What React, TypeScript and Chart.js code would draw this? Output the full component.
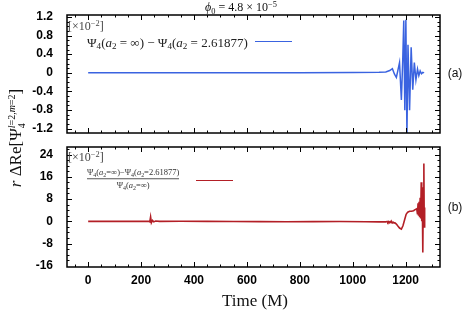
import React, { useEffect, useRef } from 'react';
import { Chart, registerables } from 'chart.js';
Chart.register(...registerables);

// ---------- data ----------
const TIME_TICKS = [0, 200, 400, 600, 800, 1000, 1200];
const TOP_Y_TICKS = [-1.2, -0.8, -0.4, 0, 0.4, 0.8, 1.2];
const BOT_Y_TICKS = [-16, -8, 0, 8, 16, 24];

const blueTime = [0, 200, 400, 600, 800, 1000, 1100, 1125, 1140, 1150, 1158, 1165, 1171, 1177, 1184, 1189, 1193, 1197, 1201, 1205, 1209, 1215, 1221, 1227, 1233, 1239, 1245, 1250, 1255, 1260, 1265, 1270];
const blueVal = [0, 0, 0, 0, 0, 0.005, 0.01, 0.02, 0.05, 0.09, -0.03, -0.1, 0.06, 0.22, -0.58, 0.25, 1.12, -0.8, 1.14, -1.35, 0.6, -0.8, 0.55, -0.36, 0.22, -0.15, 0.08, -0.06, 0.04, -0.02, 0.01, 0];

const redTime = [0, 100, 200, 228, 233, 236, 239, 243, 248, 255, 270, 350, 450, 550, 650, 750, 850, 950, 1050, 1100, 1125, 1130, 1133, 1136, 1139, 1142, 1145, 1148, 1151, 1154, 1157, 1160, 1165, 1170, 1177, 1184, 1190, 1196, 1202, 1208, 1215, 1222, 1230, 1236, 1242, 1245, 1247, 1249, 1251, 1253, 1255, 1257, 1259, 1261, 1263, 1265, 1267, 1269, 1270.5, 1272];
const redVal = [0, 0, 0, 0, -0.2, 1.6, -0.5, 0.3, -0.2, 0.1, 0, 0.05, 0, -0.05, -0.1, -0.15, -0.1, -0.05, -0.15, -0.2, -0.2, -0.05, -0.4, -0.05, -0.45, -0.1, -0.5, -0.15, -0.55, -0.35, -0.65, -0.55, -1.0, -1.6, -2.4, -2.8, -1.6, 0.5, 2.5, 3.3, 3.6, 3.6, 3.8, 4.2, 4.5, 2.5, 6.5, 2, 7, 1.5, 8.5, 1, 14, 0, 9, -11.2, 12, 20.8, -2, 5];

const BLUE = '#3a63e0';
const RED = '#b31f26';
const SANS = '"Liberation Sans", Arial, Helvetica, sans-serif';
const SERIF = '"Liberation Serif", "Times New Roman", serif';

// ---------- frame + inward ticks plugin ----------
const framePlugin = {
  id: 'frameTicks',
  afterDatasetsDraw(chart: any, _args: any, opts: any) {
    const { ctx, chartArea: a, scales } = chart;
    const xs = scales.x, ys = scales.y;
    ctx.save();
    ctx.strokeStyle = '#000';
    ctx.lineWidth = 1;
    const seg = (x1: number, y1: number, x2: number, y2: number) => {
      ctx.beginPath(); ctx.moveTo(x1, y1); ctx.lineTo(x2, y2); ctx.stroke();
    };
    const xTick = (v: number, len: number) => {
      const p = Math.round(xs.getPixelForValue(v)) + 0.5;
      if (p <= a.left + 1 || p >= a.right - 1) return;
      seg(p, a.bottom, p, a.bottom - len);
      seg(p, a.top, p, a.top + len);
    };
    const yTick = (v: number, len: number) => {
      const p = Math.round(ys.getPixelForValue(v)) + 0.5;
      if (p <= a.top + 1 || p >= a.bottom - 1) return;
      seg(a.left, p, a.left + len, p);
      seg(a.right, p, a.right - len, p);
    };
    for (let v = -50; v <= 1300; v += 50) xTick(v, v % 200 === 0 ? 5 : 2.5);
    const ym = opts.yMinor as number;
    const yMajor = opts.yMajor as number[];
    for (let i = Math.ceil(ys.min / ym); i * ym <= ys.max; i++) {
      const v = i * ym;
      const isMajor = yMajor.some((t) => Math.abs(t - v) < ym / 10);
      yTick(v, isMajor ? 5 : 2.5);
    }
    ctx.lineWidth = 1.5;
    ctx.strokeRect(a.left, a.top, a.right - a.left, a.bottom - a.top);
    ctx.restore();
  },
};

function makeConfig(p: {
  time: number[]; val: number[]; color: string; width: number;
  yMin: number; yMax: number; yTicks: number[]; yMinor: number;
  xLabels: boolean; padTop: number; xHeight: number;
}): any {
  return {
    type: 'line',
    data: {
      datasets: [{
        data: p.time.map((t, i) => ({ x: t, y: p.val[i] })),
        borderColor: p.color,
        borderWidth: p.width,
        pointRadius: 0,
        tension: 0,
        fill: false,
      }],
    },
    options: {
      animation: false,
      responsive: false,
      maintainAspectRatio: false,
      layout: { autoPadding: false, padding: { top: p.padTop, right: 24, left: 0, bottom: 0 } },
      plugins: {
        legend: { display: false },
        tooltip: { enabled: false },
        frameTicks: { yMinor: p.yMinor, yMajor: p.yTicks },
      },
      scales: {
        x: {
          type: 'linear', min: -80, max: 1330,
          grid: { display: false, drawTicks: false },
          border: { display: false },
          afterBuildTicks: (s: any) => { s.ticks = TIME_TICKS.map((v) => ({ value: v })); },
          afterFit: (s: any) => {
            s.height = p.xHeight;
            s.paddingLeft = 0; s.paddingRight = 0; s.paddingTop = 0; s.paddingBottom = 0;
          },
          ticks: {
            display: p.xLabels, padding: 6, color: '#000', maxRotation: 0, autoSkip: false,
            font: { family: SANS, size: 12, weight: 'bold' },
            callback: (v: any) => String(v),
          },
        },
        y: {
          type: 'linear', min: p.yMin, max: p.yMax,
          grid: { display: false, drawTicks: false },
          border: { display: false },
          afterBuildTicks: (s: any) => { s.ticks = p.yTicks.map((v) => ({ value: v })); },
          afterFit: (s: any) => {
            s.width = 67;
            s.paddingLeft = 0; s.paddingRight = 0; s.paddingTop = 0; s.paddingBottom = 0;
          },
          ticks: {
            padding: 14, color: '#000', autoSkip: false,
            font: { family: SANS, size: 12, weight: 'bold' },
            callback: (v: any) => String(v),
          },
        },
      },
    },
    plugins: [framePlugin],
  };
}

const Sub = ({ children }: any) => (
  <span style={{ fontSize: '0.7em', verticalAlign: '-0.3em', lineHeight: 0 }}>{children}</span>
);
const Sup = ({ children }: any) => (
  <span style={{ fontSize: '0.7em', verticalAlign: '0.5em', lineHeight: 0 }}>{children}</span>
);

const abs = (extra: React.CSSProperties): React.CSSProperties => ({
  position: 'absolute', whiteSpace: 'nowrap', lineHeight: 1, ...extra,
});

export default function App() {
  const topRef = useRef<HTMLCanvasElement>(null);
  const botRef = useRef<HTMLCanvasElement>(null);

  useEffect(() => {
    const c1 = new Chart(topRef.current as HTMLCanvasElement, makeConfig({
      time: blueTime, val: blueVal, color: BLUE, width: 1.5,
      yMin: -1.29, yMax: 1.24, yTicks: TOP_Y_TICKS, yMinor: 0.1,
      xLabels: false, padTop: 15, xHeight: 12,
    }));
    const c2 = new Chart(botRef.current as HTMLCanvasElement, makeConfig({
      time: redTime, val: redVal, color: RED, width: 1.6,
      yMin: -16.4, yMax: 26.7, yTicks: BOT_Y_TICKS, yMinor: 2,
      xLabels: true, padTop: 7, xHeight: 63,
    }));
    return () => { c1.destroy(); c2.destroy(); };
  }, []);

  return (
    <div style={{ position: 'fixed', left: 0, top: 0, width: 464, height: 330, background: '#fff', overflow: 'hidden' }}>
      <canvas ref={topRef} width={464} height={145} style={{ position: 'absolute', left: 0, top: 0, width: 464, height: 145 }} />
      <canvas ref={botRef} width={464} height={190} style={{ position: 'absolute', left: 0, top: 140, width: 464, height: 190 }} />

      {/* title */}
      <div style={abs({ left: 241, top: 7, transform: 'translate(-50%,-50%)', fontFamily: SERIF, fontSize: 12, color: '#111' })}>
        <i>ϕ</i><Sub>0</Sub> = 4.8 × 10<Sup>−5</Sup>
      </div>

      {/* y axis label */}
      <div style={abs({ left: 17, top: 138, transform: 'translate(-50%,-50%) rotate(-90deg)', fontFamily: SERIF, fontSize: 17, color: '#111' })}>
        <i>r</i> ΔRe[Ψ
        <span style={{ display: 'inline-flex', flexDirection: 'column', verticalAlign: 'middle', fontSize: 10, lineHeight: 1, alignItems: 'flex-start' }}>
          <span><i>l</i>=2,<i>m</i>=2</span>
          <span>4</span>
        </span>]
      </div>

      {/* top panel annotations */}
      <div style={abs({ left: 68, top: 26, transform: 'translateY(-50%)', fontFamily: SERIF, fontSize: 12, color: '#444' })}>
        [×10<Sup>−2</Sup>]
      </div>
      <div style={abs({ left: 87, top: 42, transform: 'translateY(-50%)', fontFamily: SERIF, fontSize: 13, color: '#222' })}>
        Ψ<Sub>4</Sub>(<i>a</i><Sub>2</Sub> = ∞) − Ψ<Sub>4</Sub>(<i>a</i><Sub>2</Sub> = 2.61877)
      </div>
      <div style={{ position: 'absolute', left: 255, top: 40.5, width: 37, height: 1.5, background: BLUE }} />
      <div style={abs({ left: 455, top: 73, transform: 'translate(-50%,-50%)', fontFamily: SANS, fontSize: 12, color: '#111' })}>(a)</div>

      {/* bottom panel annotations */}
      <div style={abs({ left: 68, top: 157, transform: 'translateY(-50%)', fontFamily: SERIF, fontSize: 12, color: '#444' })}>
        [×10<Sup>−2</Sup>]
      </div>
      <div style={abs({ left: 87, top: 179, transform: 'translateY(-50%)', fontFamily: SERIF, fontSize: 8.5, color: '#333', display: 'inline-flex', flexDirection: 'column', alignItems: 'center' })}>
        <span style={{ paddingBottom: 1.5, borderBottom: '1px solid #555' }}>
          Ψ<Sub>4</Sub>(<i>a</i><Sub>2</Sub>=∞)−Ψ<Sub>4</Sub>(<i>a</i><Sub>2</Sub>=2.61877)
        </span>
        <span style={{ paddingTop: 2 }}>Ψ<Sub>4</Sub>(<i>a</i><Sub>2</Sub>=∞)</span>
      </div>
      <div style={{ position: 'absolute', left: 196, top: 179.5, width: 37, height: 1.5, background: RED }} />
      <div style={abs({ left: 455, top: 207, transform: 'translate(-50%,-50%)', fontFamily: SANS, fontSize: 12, color: '#111' })}>(b)</div>

      {/* x axis title */}
      <div style={abs({ left: 255, top: 300, transform: 'translate(-50%,-50%)', fontFamily: SERIF, fontSize: 17, color: '#111' })}>
        Time (M)
      </div>
    </div>
  );
}
